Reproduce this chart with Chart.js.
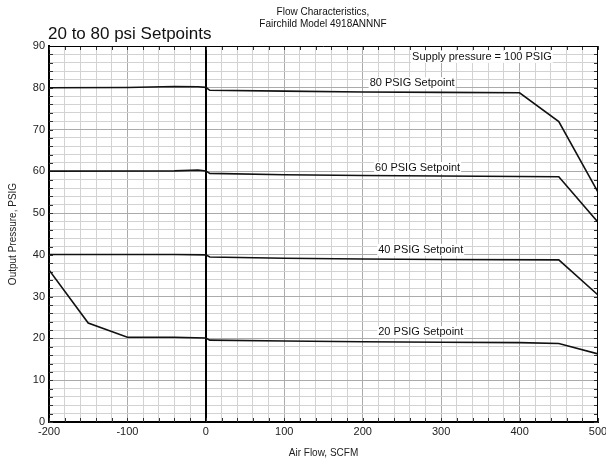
<!DOCTYPE html>
<html>
<head>
<meta charset="utf-8">
<script src="https://cdn.jsdelivr.net/npm/chart.js@4"></script>
<style>
  html, body { margin: 0; padding: 0; background: #fff; }
  #wrap { width: 606px; height: 461px; }
</style>
</head>
<body>
<div id="wrap"><canvas id="chart"></canvas></div>
<script>
// flow (SCFM) / output pressure (PSIG) for each setpoint curve
const flow80 = [-200, -100, -40, -10, 0, 5, 100, 200, 300, 400, 450, 500];
const psi80 = [80, 80.05, 80.3, 80.25, 80.1, 79.4, 79.2, 79.0, 78.9, 78.8, 71.9, 55.0];

const flow60 = [-200, -40, -10, 0, 5, 100, 200, 300, 450, 500];
const psi60 = [60.05, 60.1, 60.3, 60.1, 59.5, 59.2, 59.0, 58.9, 58.7, 47.8];

const flow40 = [-200, -40, 0, 5, 100, 200, 300, 450, 500];
const psi40 = [40.1, 40.1, 40.0, 39.5, 39.2, 39.0, 38.9, 38.8, 30.4];

const flow20 = [-200, -150, -100, -40, 0, 5, 100, 200, 300, 400, 450, 500];
const psi20 = [36.4, 23.7, 20.3, 20.3, 20.1, 19.6, 19.4, 19.2, 19.1, 19.0, 18.8, 16.3];

const seriesNames = ["80 PSIG Setpoint", "60 PSIG Setpoint", "40 PSIG Setpoint", "20 PSIG Setpoint"];
const noteText = "Supply pressure = 100 PSIG";
const titleText = "20 to 80 psi Setpoints";
const headerLines = ["Flow Characteristics,", "Fairchild Model 4918ANNNF"];

const FONT = "'Liberation Sans', Arial, sans-serif";

const pts = (xs, ys) => xs.map((x, i) => ({ x, y: ys[i] }));

// where the curve labels sit, in data units
const labelSpots = [
    { text: seriesNames[0], x: 263, y: 81.1 },
    { text: seriesNames[1], x: 270, y: 60.8 },
    { text: seriesNames[2], x: 274, y: 41.2 },
    { text: seriesNames[3], x: 274, y: 21.5 },
    { text: noteText, x: 352, y: 87.4 }
];

const textPlugin = {
    id: "texts",
    beforeDatasetsDraw(chart) {
        const ctx = chart.ctx;
        const { left, right, top, bottom } = chart.chartArea;
        const xs = chart.scales.x, ys = chart.scales.y;
        ctx.save();
        ctx.strokeStyle = "#000";
        // solid black line at zero flow, over the grid
        const x0 = Math.round(xs.getPixelForValue(0));
        ctx.lineWidth = 2;
        ctx.beginPath();
        ctx.moveTo(x0, top);
        ctx.lineTo(x0, bottom);
        ctx.stroke();
        // little inward ticks on every side
        ctx.lineWidth = 1;
        ctx.strokeStyle = "#333";
        ctx.beginPath();
        xs.ticks.forEach(t => {
            const px = Math.round(xs.getPixelForValue(t.value)) + 0.5;
            ctx.moveTo(px, top); ctx.lineTo(px, top + 4);
            ctx.moveTo(px, bottom); ctx.lineTo(px, bottom - 4);
        });
        ys.ticks.forEach(t => {
            const py = Math.round(ys.getPixelForValue(t.value)) + 0.5;
            ctx.moveTo(left, py); ctx.lineTo(left + 4, py);
            ctx.moveTo(right, py); ctx.lineTo(right - 4, py);
        });
        ctx.stroke();
        ctx.restore();
    },
    afterDraw(chart) {
        const ctx = chart.ctx;
        const xs = chart.scales.x, ys = chart.scales.y;
        ctx.save();
        // frame on top and right
        ctx.strokeStyle = "#000";
        ctx.lineWidth = 1;
        ctx.beginPath();
        ctx.moveTo(chart.chartArea.left, chart.chartArea.top + 0.5);
        ctx.lineTo(chart.chartArea.right - 0.5, chart.chartArea.top + 0.5);
        ctx.lineTo(chart.chartArea.right - 0.5, chart.chartArea.bottom);
        ctx.stroke();

        ctx.fillStyle = "#111";
        ctx.font = "17px " + FONT;
        ctx.textAlign = "left";
        ctx.textBaseline = "alphabetic";
        ctx.fillText(titleText, 48, 39);

        ctx.font = "10px " + FONT;
        ctx.textAlign = "center";
        ctx.textBaseline = "middle";
        ctx.fillText(headerLines[0], 323, 12.5);
        ctx.fillText(headerLines[1], 323, 24.5);

        ctx.font = "11px " + FONT;
        labelSpots.forEach(l => {
            const px = xs.getPixelForValue(l.x), py = ys.getPixelForValue(l.y);
            const w = ctx.measureText(l.text).width;
            ctx.fillStyle = "#fff";
            ctx.fillRect(px - w / 2 - 1, py - 6, w + 2, 12);
            ctx.fillStyle = "#111";
            ctx.fillText(l.text, px, py);
        });
        ctx.restore();
    }
};

const lineStyle = { borderColor: "#111", borderWidth: 1.6, pointRadius: 0, showLine: true, tension: 0, fill: false };

new Chart(document.getElementById("chart"), {
    type: "scatter",
    data: {
        datasets: [
            { label: seriesNames[0], data: pts(flow80, psi80), ...lineStyle },
            { label: seriesNames[1], data: pts(flow60, psi60), ...lineStyle },
            { label: seriesNames[2], data: pts(flow40, psi40), ...lineStyle },
            { label: seriesNames[3], data: pts(flow20, psi20), ...lineStyle }
        ]
    },
    options: {
        responsive: true,
        maintainAspectRatio: false,
        animation: false,
        layout: { padding: { top: 46, right: 8, left: 0, bottom: 0 } },
        plugins: { legend: { display: false }, tooltip: { enabled: false } },
        scales: {
            x: {
                type: "linear",
                min: -200, max: 500,
                ticks: {
                    stepSize: 20, autoSkip: false, maxRotation: 0, padding: 3,
                    color: "#222", font: { family: FONT, size: 11 },
                    callback: v => (v % 100 === 0 ? v : "")
                },
                grid: {
                    drawTicks: false,
                    color: c => (c.tick.value === 500 ? "rgba(0,0,0,0)" : c.tick.value % 100 === 0 ? "#ababab" : "#d2d2d2"),
                    lineWidth: 1
                },
                border: { color: "#000", width: 2 },
                title: { display: true, text: "Air Flow, SCFM", color: "#222", font: { family: FONT, size: 10 }, padding: { top: 0, bottom: 2 } },
                afterFit: s => { s.height = 39; s.paddingLeft = 0; s.paddingRight = 0; }
            },
            y: {
                min: 0, max: 90,
                ticks: {
                    stepSize: 2, autoSkip: false, padding: 4,
                    color: "#222", font: { family: FONT, size: 11 },
                    callback: v => (v % 10 === 0 ? v : "")
                },
                grid: {
                    drawTicks: false,
                    color: c => (c.tick.value === 90 ? "rgba(0,0,0,0)" : c.tick.value % 10 === 0 ? "#ababab" : "#d2d2d2"),
                    lineWidth: 1
                },
                border: { color: "#000", width: 2 },
                title: { display: true, text: "Output Pressure, PSIG", color: "#222", font: { family: FONT, size: 10 }, padding: { top: 7, bottom: 0 } },
                afterFit: s => { s.width = 49; s.paddingTop = 0; s.paddingBottom = 0; }
            }
        }
    },
    plugins: [textPlugin]
});
</script>
</body>
</html>
